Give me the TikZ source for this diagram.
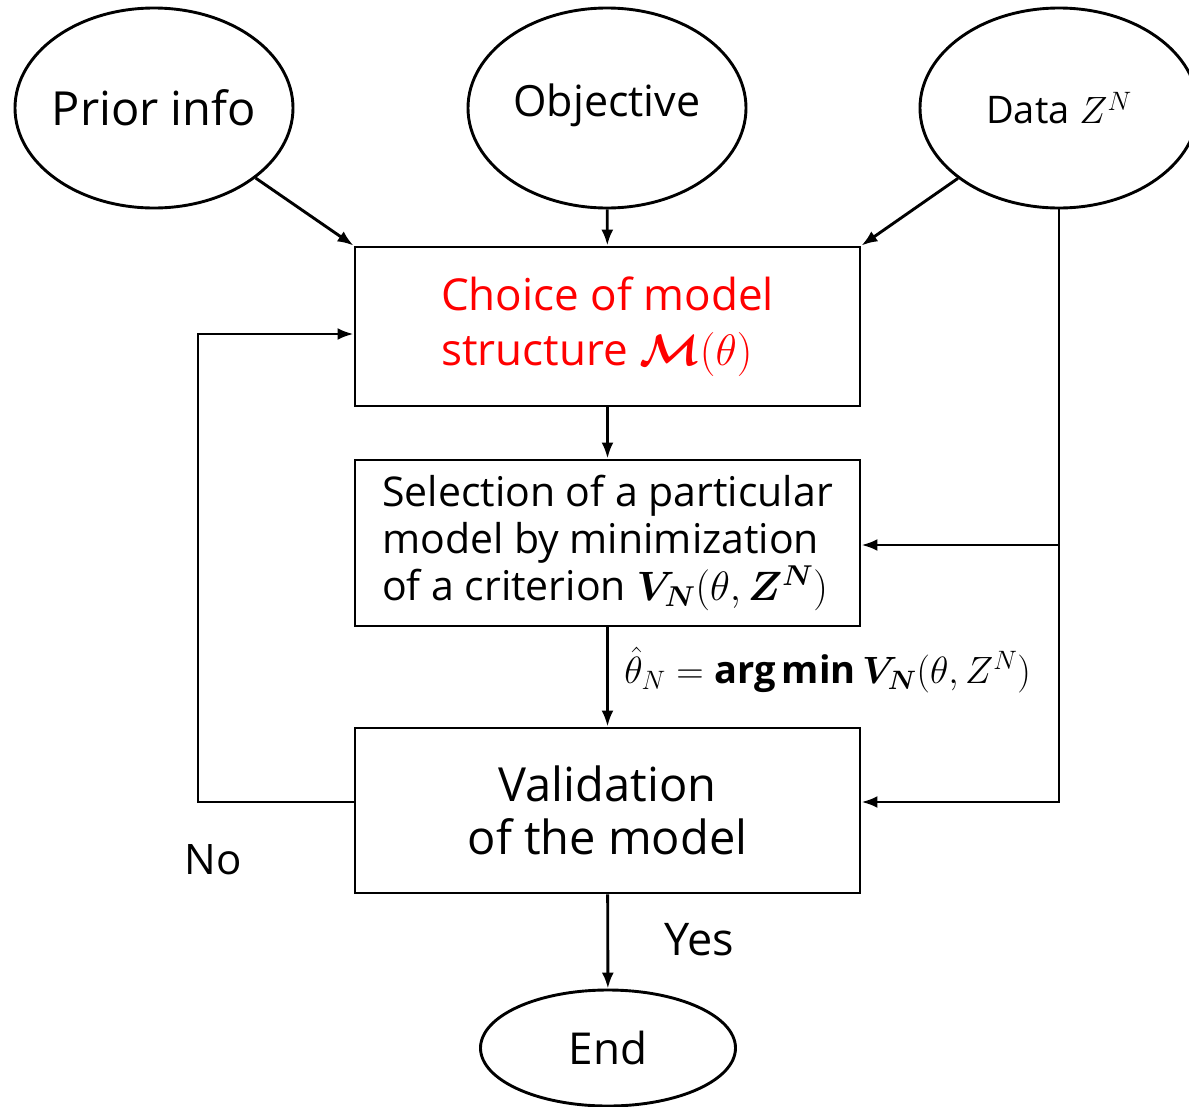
\RequirePackage{fix-cm}
\documentclass[tikz,border=0pt]{standalone}
\usepackage{amsmath,bm}
\usepackage{fontspec}
\setmainfont{Open Sans}
\usetikzlibrary{shapes.geometric,arrows.meta}
\begin{document}
\begin{tikzpicture}[x=1pt,y=-1pt, line width=2.9pt,
  >={Latex[length=16pt,width=12pt]},
  oval/.style={draw, ellipse, minimum width=278pt, minimum height=200pt, inner sep=0pt},
  box/.style={draw, rectangle, minimum width=505pt, inner sep=0pt},
  lbl/.style={inner sep=0pt}]
\useasboundingbox (0,0) rectangle (1189,1106);

\node[oval, label={[font=\fontsize{47}{56}\selectfont]center:Prior info}] (prior) at (154,108) {};
\node[oval, label={[font=\fontsize{43}{52}\selectfont, yshift=3pt]center:Objective}] (obj) at (607,108) {};
\node[oval, label={[font=\fontsize{38}{44}\selectfont]center:Data $Z^N$}] (data) at (1059,108) {};

\node[box, minimum height=159pt, text=red, align=left,
  font=\fontsize{44}{55}\selectfont] (box1) at (607.5,326.5)
  {Choice of model\\structure $\bm{\mathcal{M}}(\theta)$};
\node[box, minimum height=166pt, align=left,
  font=\fontsize{41}{47}\selectfont] (box2) at (607.5,543)
  {Selection of a particular\\model by minimization\\of a criterion $\bm{V}_{\bm{N}}(\theta, \bm{Z}^{\bm{N}})$};
\node[box, minimum height=165pt, align=center,
  font=\fontsize{47}{53}\selectfont] (box3) at (607.5,810.5)
  {Validation\\of the model};
\node[draw, ellipse, minimum width=255pt, minimum height=116pt, inner sep=0pt,
  label={[font=\fontsize{44}{53}\selectfont]center:End}] (end) at (608,1048) {};

\node[lbl, font=\fontsize{42}{50}\selectfont] (no) at (213,860) {No};
\node[lbl, font=\fontsize{45}{50}\selectfont] (yes) at (699,940) {Yes};

\coordinate (fb) at (198,802);
\coordinate (ft) at (198,334);
\coordinate (dj) at (1059,545);

\draw[->] (prior) -- (box1.north west);
\draw[->] (obj) -- (box1);
\draw[->] (data) -- (box1.north east);
\draw[->] (box1) -- (box2);
\draw[->] (box2) -- node[pos=0.43, right, xshift=12pt, font=\fontsize{38}{44}\selectfont] (lab)
  {$\hat{\theta}_N = \textbf{arg\,min}\, \bm{V}_{\bm{N}}(\theta, Z^N)$} (box3);
\draw[->] (data.south) -- (data.south |- fb) -- (fb -| box3.east);
\draw[->] (dj) -- (dj -| box2.east);
\draw[->] (fb -| box3.west) -- (fb) -- (ft) -- (ft -| box1.west);
\draw[->] (box3) -- (end);
\end{tikzpicture}
\end{document}
